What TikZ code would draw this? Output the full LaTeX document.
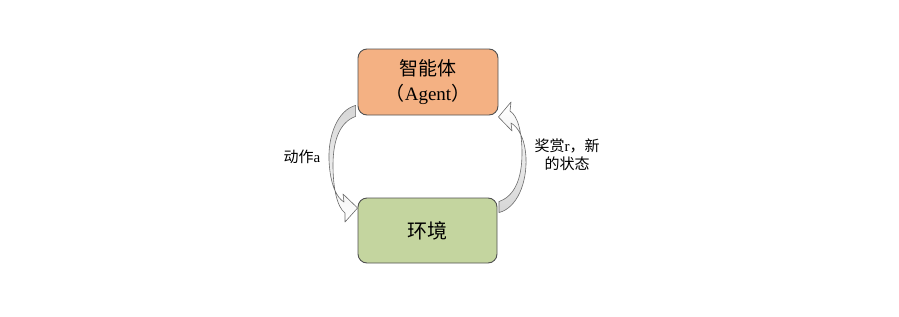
\documentclass[tikz,border=0pt]{standalone}
\usepackage{fontspec}
\setmainfont{Liberation Serif}
\newfontfamily\cjk{Noto Sans CJK SC}
\usetikzlibrary{calc}
\definecolor{agentfill}{HTML}{F4B183}
\definecolor{envfill}{HTML}{C4D59F}
\definecolor{boxline}{HTML}{505050}
\definecolor{arrline}{HTML}{6A6A6A}
\definecolor{arrfill}{HTML}{D6D6D6}
\begin{document}
\begin{tikzpicture}[x=1pt,y=-1pt,
  box/.style={draw=boxline, line width=0.9pt, rounded corners=9pt, align=center, inner sep=0pt},
  blockarrow/.style={draw=arrline, line width=0.6pt, line join=round},
  lbl/.style={align=center, font=\fontsize{15}{18}\selectfont, inner sep=0pt}]
\useasboundingbox (0,0) rectangle (899,316);
\node[box, fill=agentfill, minimum width=140pt, minimum height=66pt,
      font=\fontsize{19}{25}\selectfont] (agent) at (428,82)
  {{\cjk 智能体}\\{\cjk （}Agent{\cjk ）}};
\node[box, fill=envfill, minimum width=139pt, minimum height=65pt,
      font=\fontsize{20}{24}\selectfont] (env) at (427.5,230.5) {\cjk 环境};
% left curved arrow (action)
\coordinate (la1) at ($(agent.south west)+(-2,-10)$);
\coordinate (la2) at ($(agent.south west)+(-2,1)$);
\coordinate (ltip) at ($(env.west)+(0,-22.5)$);
\draw[blockarrow, top color=arrfill, bottom color=white] (la1) .. controls (338,110) and (328,135) .. (329,160)
  .. controls (330,185) and (337,198) .. (344,202) -- (343,194) -- (ltip)
  -- (345,222) -- (345,213) .. controls (337,207) and (333,188) .. (333,165)
  .. controls (333,140) and (340,122) .. (la2) -- cycle;
% right curved arrow (reward, new state)
\coordinate (ra1) at ($(env.north east)+(1.5,15)$);
\coordinate (ra2) at ($(env.north east)+(1.5,4)$);
\coordinate (rtip) at ($(agent.east)+(0,35)$);
\draw[blockarrow, top color=white, bottom color=arrfill] (ra1) .. controls (517,208) and (527,183) .. (526,158)
  .. controls (525,138) and (518,127) .. (511,123) -- (512,131) -- (rtip)
  -- (511,102) -- (510,111) .. controls (518,116) and (522,133) .. (522,153)
  .. controls (522,178) and (515,196) .. (ra2) -- cycle;
\node[lbl] (act) at (302,157) {{\cjk 动作}a};
\node[lbl] (rew) at (567,155) {{\cjk 奖赏}r{\cjk ，新}\\{\cjk 的状态}};
\end{tikzpicture}
\end{document}
